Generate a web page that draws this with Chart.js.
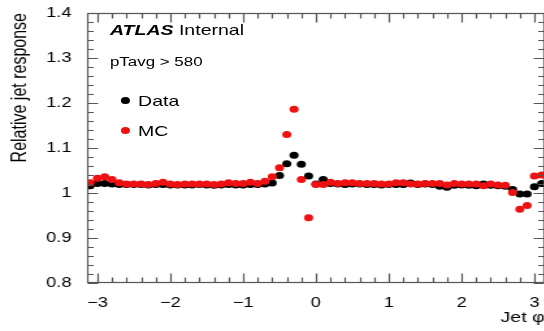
<!DOCTYPE html>
<html>
<head>
<meta charset="utf-8">
<script src="https://cdn.jsdelivr.net/npm/chart.js@4.4.1/dist/chart.umd.min.js"></script>
<style>
    html, body { margin: 0; padding: 0; background: #fff; overflow: hidden; width: 544px; height: 331px; }
    /* the reference is stretched horizontally, so the whole chart is drawn narrow and scaled */
    #wrap { position: absolute; left: 0; top: 0; width: 423px; height: 331px; transform: scaleX(1.3); transform-origin: 0 0; }
    .txt { position: absolute; font-family: "Liberation Sans", Arial, sans-serif; color: #000; line-height: 1; white-space: nowrap; }
    .dot { position: absolute; width: 7px; height: 7px; border-radius: 50%; }
</style>
</head>
<body>
<div id="wrap">
    <canvas id="responseChart"></canvas>
    <div class="txt" style="left:84.6px; top:21.6px; font-size:15px;"><b><i>ATLAS</i></b> Internal</div>
    <div class="txt" style="left:84.6px; top:54.6px; font-size:13px;">pTavg &gt; 580</div>
    <div class="dot" style="left:93.4px; top:96.5px; background:#000;"></div>
    <div class="txt" style="left:106.2px; top:92.6px; font-size:15px;">Data</div>
    <div class="dot" style="left:93px; top:127.2px; background:#ee1111;"></div>
    <div class="txt" style="left:106.2px; top:123.3px; font-size:15px;">MC</div>
</div>
<script>
// Jet phi binning (63 bins of 0.1, centres -3.1 ... 3.1)
const binLow = -3.15;
const binWidth = 0.1;
const phiMin = -Math.PI;
const phiMax = Math.PI;

// Relative jet response, data
const dataResponse = [
    1.016, 1.021, 1.021, 1.020, 1.019, 1.019, 1.019, 1.019, 1.018, 1.019,
    1.019, 1.018, 1.018, 1.018, 1.018, 1.019, 1.018, 1.017, 1.018, 1.019,
    1.018, 1.018, 1.019, 1.019, 1.020, 1.022, 1.039, 1.065, 1.084, 1.064,
    1.038, 1.020, 1.030, 1.021, 1.020, 1.019, 1.020, 1.020, 1.019, 1.019,
    1.018, 1.019, 1.019, 1.019, 1.022, 1.019, 1.020, 1.019, 1.015, 1.013,
    1.017, 1.018, 1.017, 1.016, 1.020, 1.017, 1.016, 1.015, 1.008, 0.998,
    0.998, 1.014, 1.021
];

// Relative jet response, MC
const mcResponse = [
    1.023, 1.033, 1.036, 1.030, 1.023, 1.020, 1.020, 1.020, 1.019, 1.021,
    1.024, 1.020, 1.019, 1.020, 1.020, 1.020, 1.020, 1.019, 1.020, 1.023,
    1.021, 1.021, 1.024, 1.021, 1.026, 1.036, 1.056, 1.130, 1.186, 1.030,
    0.945, 1.019, 1.019, 1.024, 1.021, 1.023, 1.023, 1.021, 1.021, 1.021,
    1.020, 1.020, 1.023, 1.023, 1.020, 1.020, 1.021, 1.021, 1.021, 1.018,
    1.021, 1.020, 1.020, 1.020, 1.016, 1.020, 1.018, 1.017, 1.001, 0.964,
    0.972, 1.038, 1.040
];

// Eksen etiketleri
const xTicks = [-3, -2, -1, 0, 1, 2, 3];
const xTickLabels = ["\u22123", "\u22122", "\u22121", "0", "1", "2", "3"];
const yTicks = [0.8, 0.9, 1.0, 1.1, 1.2, 1.3, 1.4];
const yTickLabels = ["0.8", "0.9", "1", "1.1", "1.2", "1.3", "1.4"];

const binCenters = dataResponse.map((_, i) => binLow + (i + 0.5) * binWidth);
const toPoints = values => values.map((v, i) => ({ x: binCenters[i], y: v }));

// ROOT tarzı çerçeve ve içe bakan tikler
const rootFrame = {
    id: "rootFrame",
    afterDraw(chart) {
        const ctx = chart.ctx;
        const a = chart.chartArea;
        const x = chart.scales.x;
        const y = chart.scales.y;
        const L = Math.round(a.left) + 0.5, R = Math.round(a.right) - 0.5;
        const T = Math.round(a.top) + 0.5, B = Math.round(a.bottom) - 0.5;
        ctx.save();
        ctx.strokeStyle = "#555";
        ctx.lineWidth = 1.2;
        ctx.strokeRect(L, T, R - L, B - T);
        ctx.beginPath();
        for (let k = -16; k <= 16; k++) {
            const v = k / 5;
            if (v <= phiMin || v >= phiMax) continue;
            const len = k % 5 === 0 ? 9 : 5;
            const px = Math.round(x.getPixelForValue(v)) + 0.5;
            ctx.moveTo(px, B); ctx.lineTo(px, B - len);
            ctx.moveTo(px, T); ctx.lineTo(px, T + len);
        }
        for (let k = 40; k <= 70; k++) {
            const v = k / 50;
            const len = k % 5 === 0 ? 8 : 4.5;
            const py = Math.round(y.getPixelForValue(v)) + 0.5;
            ctx.moveTo(L, py); ctx.lineTo(L + len, py);
            ctx.moveTo(R, py); ctx.lineTo(R - len, py);
        }
        ctx.stroke();
        ctx.restore();
    }
};

Chart.defaults.font.family = '"Liberation Sans", Arial, sans-serif';
Chart.defaults.color = "#000";

new Chart(document.getElementById("responseChart"), {
    type: "scatter",
    data: {
        datasets: [
            {
                label: "MC",
                data: toPoints(mcResponse),
                backgroundColor: "#ee1111",
                borderWidth: 0,
                pointRadius: 3.5,
                order: 1,
            },
            {
                label: "Data",
                data: toPoints(dataResponse),
                backgroundColor: "#000",
                borderWidth: 0,
                pointRadius: 3.5,
                order: 2,
            },
        ],
    },
    options: {
        responsive: true,
        maintainAspectRatio: false,
        animation: false,
        layout: { padding: { top: 13, right: 1, left: 0, bottom: 0 } },
        plugins: { legend: { display: false }, tooltip: { enabled: false } },
        scales: {
            x: {
                type: "linear",
                min: phiMin,
                max: phiMax,
                grid: { display: false },
                border: { display: false },
                afterBuildTicks: s => { s.ticks = xTicks.map(v => ({ value: v })); },
                afterFit: s => { s.height = 48; },
                ticks: {
                    autoSkip: false,
                    maxRotation: 0,
                    padding: 4,
                    font: { size: 14 },
                    callback: (v, i) => xTickLabels[i],
                },
                title: { display: true, text: "Jet \u03c6", align: "end", font: { size: 15 }, padding: { top: 0, bottom: 4 } },
            },
            y: {
                type: "linear",
                min: 0.8,
                max: 1.4,
                grid: { display: false },
                border: { display: false },
                afterBuildTicks: s => { s.ticks = yTicks.map(v => ({ value: v })); },
                afterFit: s => { s.width = 67; },
                ticks: {
                    padding: 4,
                    font: { size: 14 },
                    callback: (v, i) => yTickLabels[i],
                },
                title: { display: true, text: "Relative jet response", align: "end", font: { size: 16 }, padding: { top: 6, bottom: 0 } },
            },
        },
    },
    plugins: [rootFrame],
});
</script>
</body>
</html>
